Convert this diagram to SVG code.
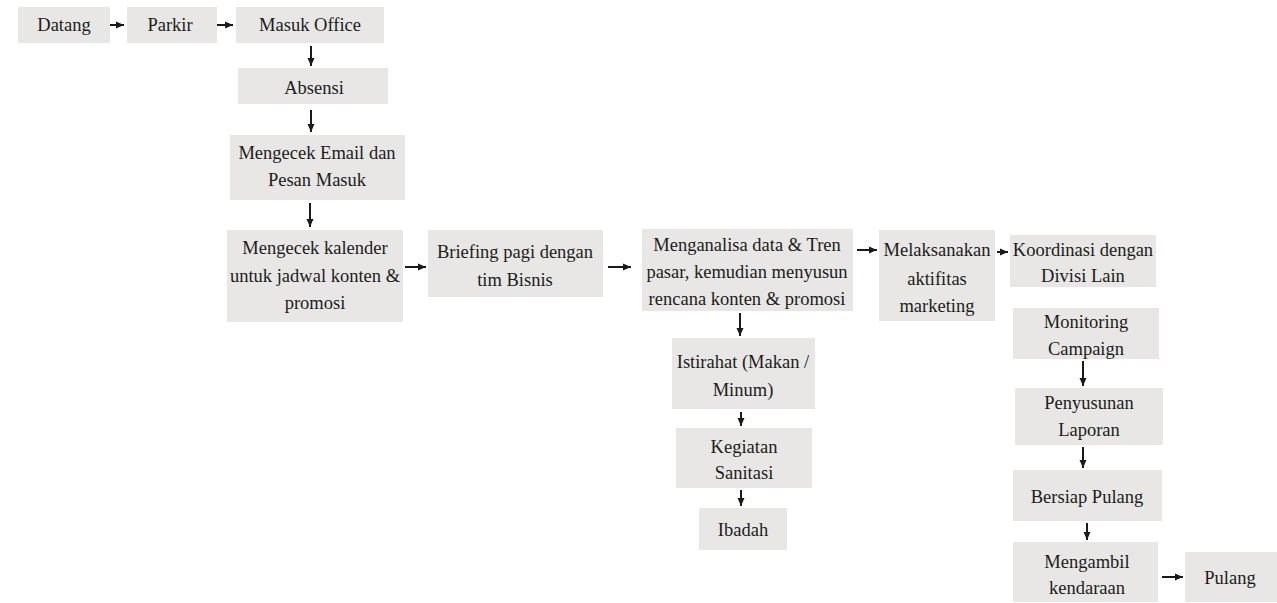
<svg xmlns="http://www.w3.org/2000/svg" width="1277" height="603" viewBox="0 0 1277 603">
<style>
.box{fill:#e8e7e5;}
.t{font-family:'Liberation Serif','Times New Roman',serif;font-size:18.5px;fill:#1c1c1c;text-anchor:middle;}
.c{stroke:#1a1a1a;stroke-width:2;fill:none;marker-end:url(#ah);}
</style>
<defs>
<marker id="ah" markerUnits="userSpaceOnUse" markerWidth="9" markerHeight="9" refX="8" refY="4.5" orient="auto">
<path d="M0,1 L8,4.5 L0,8 Z" fill="#1a1a1a"/>
</marker>
</defs>
<rect width="1277" height="603" fill="#ffffff"/>
<g id="connectors">
<line class="c" x1="108" y1="25" x2="124" y2="25"/>
<line class="c" x1="214" y1="25" x2="233" y2="25"/>
<line class="c" x1="311" y1="46" x2="311" y2="66"/>
<line class="c" x1="311" y1="110" x2="311" y2="132"/>
<line class="c" x1="310" y1="203" x2="310" y2="227"/>
<line class="c" x1="405" y1="267" x2="426" y2="267"/>
<line class="c" x1="608" y1="267" x2="631" y2="267"/>
<line class="c" x1="857" y1="250" x2="877" y2="250"/>
<line class="c" x1="997" y1="252" x2="1008" y2="252"/>
<line class="c" x1="740" y1="313" x2="740" y2="336"/>
<line class="c" x1="741" y1="412" x2="741" y2="426"/>
<line class="c" x1="741" y1="490" x2="741" y2="506"/>
<line class="c" x1="1083" y1="361" x2="1083" y2="386"/>
<line class="c" x1="1083" y1="447" x2="1083" y2="468"/>
<line class="c" x1="1087" y1="523" x2="1087" y2="540"/>
<line class="c" x1="1162" y1="577" x2="1183" y2="577"/>
</g>
<g id="n-datang"><rect class="box" x="18" y="7" width="92" height="36"/><text class="t" x="64" y="31">Datang</text></g>
<g id="n-parkir"><rect class="box" x="127" y="7" width="90" height="36"/><text class="t" x="170" y="31">Parkir</text></g>
<g id="n-masuk"><rect class="box" x="236" y="7" width="148" height="36"/><text class="t" x="310" y="31">Masuk Office</text></g>
<g id="n-absensi"><rect class="box" x="238" y="68" width="150" height="36"/><text class="t" x="314" y="94">Absensi</text></g>
<g id="n-email"><rect class="box" x="230" y="135" width="175" height="65"/><text class="t" x="317" y="159">Mengecek Email dan</text><text class="t" x="317" y="186">Pesan Masuk</text></g>
<g id="n-kalender"><rect class="box" x="227" y="230" width="176" height="92"/><text class="t" x="315" y="254">Mengecek kalender</text><text class="t" x="315" y="282">untuk jadwal konten &amp;</text><text class="t" x="315" y="309">promosi</text></g>
<g id="n-briefing"><rect class="box" x="428" y="230" width="175" height="67"/><text class="t" x="515" y="258">Briefing pagi dengan</text><text class="t" x="515" y="286">tim Bisnis</text></g>
<g id="n-analisa"><rect class="box" x="642" y="229" width="211" height="82"/><text class="t" x="747" y="251">Menganalisa data &amp; Tren</text><text class="t" x="747" y="278">pasar, kemudian menyusun</text><text class="t" x="747" y="305">rencana konten &amp; promosi</text></g>
<g id="n-melaksanakan"><rect class="box" x="879" y="230" width="116" height="91"/><text class="t" x="937" y="256">Melaksanakan</text><text class="t" x="937" y="285">aktifitas</text><text class="t" x="937" y="312">marketing</text></g>
<g id="n-koordinasi"><rect class="box" x="1010" y="235" width="146" height="52"/><text class="t" x="1083" y="256">Koordinasi dengan</text><text class="t" x="1083" y="282">Divisi Lain</text></g>
<g id="n-monitoring"><rect class="box" x="1013" y="308" width="146" height="51"/><text class="t" x="1086" y="328">Monitoring</text><text class="t" x="1086" y="355">Campaign</text></g>
<g id="n-penyusunan"><rect class="box" x="1015" y="388" width="148" height="57"/><text class="t" x="1089" y="409">Penyusunan</text><text class="t" x="1089" y="436">Laporan</text></g>
<g id="n-bersiap"><rect class="box" x="1013" y="470" width="149" height="51"/><text class="t" x="1087" y="503">Bersiap Pulang</text></g>
<g id="n-mengambil"><rect class="box" x="1013" y="542" width="145" height="60"/><text class="t" x="1087" y="568">Mengambil</text><text class="t" x="1087" y="594">kendaraan</text></g>
<g id="n-pulang"><rect class="box" x="1185" y="552" width="92" height="50"/><text class="t" x="1230" y="584">Pulang</text></g>
<g id="n-istirahat"><rect class="box" x="672" y="338" width="143" height="71"/><text class="t" x="743" y="368">Istirahat (Makan /</text><text class="t" x="743" y="396">Minum)</text></g>
<g id="n-kegiatan"><rect class="box" x="676" y="428" width="136" height="60"/><text class="t" x="744" y="453">Kegiatan</text><text class="t" x="744" y="479">Sanitasi</text></g>
<g id="n-ibadah"><rect class="box" x="699" y="508" width="88" height="42"/><text class="t" x="743" y="536">Ibadah</text></g>
</svg>
